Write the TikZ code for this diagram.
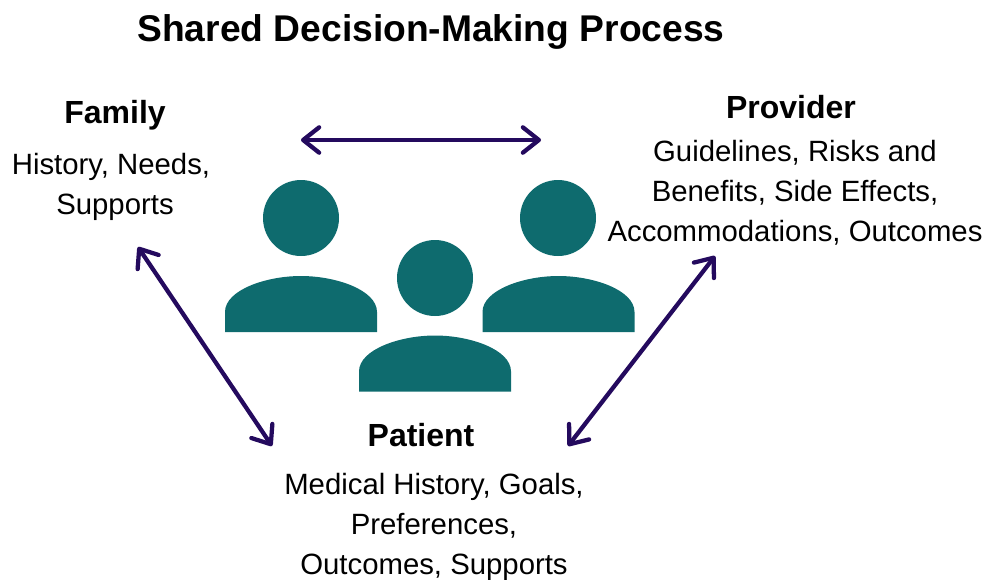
\documentclass[tikz,border=0pt]{standalone}
\usepackage{fontspec}
\setmainfont{Liberation Sans}
\usetikzlibrary{arrows.meta}
\definecolor{teal1}{HTML}{0E6B6E}
\definecolor{purp}{HTML}{240A5E}
\tikzset{
 head/.style={circle,fill=teal1,minimum size=57pt,inner sep=0pt},
 barb/.tip={Straight Barb[round,length=12pt,width=19pt,line width=3.2pt]},
 conn/.style={draw=purp,line width=3.2pt,barb-barb},
 lab/.style={inner sep=0pt,align=center,font=\fontsize{22}{30}\selectfont},
 hd/.style={inner sep=0pt,font=\fontsize{24}{28}\selectfont\bfseries},
}
\begin{document}
\begin{tikzpicture}[x=0.75pt,y=-0.75pt]
\useasboundingbox (0,0) rectangle (985,579);
\node[hd,font=\fontsize{27.9}{30}\selectfont\bfseries] (title) at (431,32) {Shared Decision-Making Process};
\node[hd] (family) at (115,115) {Family};
\node[lab] (familyt) at (111,187) {History, Needs,\\\hspace{6pt}Supports};
\node[hd] (provider) at (791,107) {Provider};
\node[lab] (providert) at (795,192.5) {Guidelines, Risks and\\Benefits, Side Effects,\\Accommodations, Outcomes};
\node[hd] (patient) at (421,435) {Patient};
\node[lab] (patientt) at (434,527) {Medical History, Goals,\\Preferences,\\Outcomes, Supports};
\node[head] (h1) at (301,218) {};
\node[head] (h2) at (558,218) {};
\node[head] (h3) at (435,278) {};
\foreach \cx/\by in {301/332,558.5/332,435/391.5}{
 \fill[teal1] (\cx-76,\by) -- (\cx-76,\by-20) .. controls (\cx-76,\by-42) and (\cx-35,\by-56) .. (\cx,\by-56) .. controls (\cx+35,\by-56) and (\cx+76,\by-42) .. (\cx+76,\by-20) -- (\cx+76,\by) -- cycle;
}
\coordinate (a1) at (301,140);
\coordinate (a2) at (541,140);
\coordinate (b1) at (138,247);
\coordinate (b2) at (272,446);
\coordinate (c1) at (715,256);
\coordinate (c2) at (568,446);
\draw[conn] (a1) -- (a2);
\draw[conn] (b1) -- (b2);
\draw[conn] (c1) -- (c2);
\end{tikzpicture}
\end{document}
